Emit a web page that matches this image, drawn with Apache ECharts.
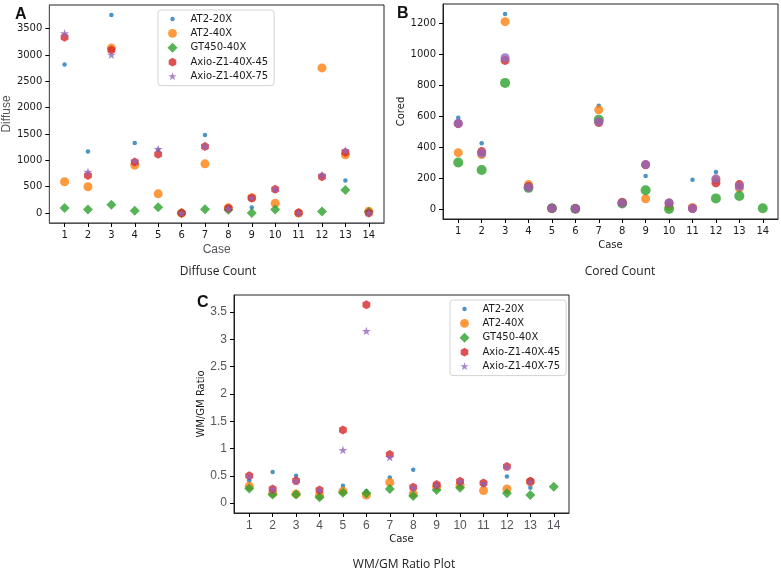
<!DOCTYPE html>
<html>
<head>
<meta charset="utf-8">
<script src="https://cdn.jsdelivr.net/npm/echarts@6/dist/echarts.min.js"></script>
<style>html,body{margin:0;padding:0;background:#fff;}#c{width:781px;height:572px;background:#fff;}</style>
</head>
<body>
<div id="c"></div>
<script>
// ---- data ----
var cases = [1, 2, 3, 4, 5, 6, 7, 8, 9, 10, 11, 12, 13, 14];
var seriesNames = ['AT2-20X', 'AT2-40X', 'GT450-40X', 'Axio-Z1-40X-45', 'Axio-Z1-40X-75'];

var diffuseAT2_20X = [2820, 1170, 3760, 1330, 1200, 0, 1480, 80, 105, 440, 0, 710, 620, null];
var diffuseAT2_40X = [595, 500, 3130, 910, 365, 0, 935, 100, 290, 185, 0, 2755, 1105, 35];
var diffuseGT450   = [95, 70, 160, 45, 110, 0, 75, 65, 0, 70, null, 30, 440, 20];
var diffuseAxio45  = [3335, 715, 3095, 970, 1115, 0, 1265, 90, 285, 450, 5, 690, 1155, 0];
var diffuseAxio75  = [3410, 785, 3005, 985, 1215, 0, 1270, 80, 292, 455, 5, 725, 1185, 0];

var coredAT2_20X = [590, 425, 1260, 150, 6, 3, 667, 45, 215, 35, 191, 240, 150, null];
var coredAT2_40X = [365, 353, 1210, 159, 6, 3, 641, 45, 68, 20, 11, 190, 136, null];
var coredGT450   = [302, 253, 815, 138, 6, 3, 578, 37, 123, 2, null, 70, 85, 6];
var coredAxio45  = [552, 372, 960, 146, 6, 3, 559, 42, 287, 41, 5, 170, 159, null];
var coredAxio75  = [555, 361, 977, 141, 6, 3, 565, 41, 288, 41, 5, 196, 147, null];

var ratioAT2_20X = [0.41, 0.57, 0.50, 0.22, 0.32, 0.22, 0.47, 0.61, 0.30, 0.36, 0.35, 0.49, 0.28, null];
var ratioAT2_40X = [0.31, 0.18, 0.17, 0.14, 0.22, 0.15, 0.38, 0.17, 0.30, 0.33, 0.23, 0.26, 0.39, null];
var ratioGT450   = [0.27, 0.16, 0.16, 0.11, 0.19, 0.18, 0.26, 0.13, 0.24, 0.28, null, 0.18, 0.15, 0.30];
var ratioAxio45  = [0.50, 0.26, 0.41, 0.24, 1.34, 3.63, 0.89, 0.29, 0.34, 0.40, 0.37, 0.67, 0.40, null];
var ratioAxio75  = [0.49, 0.25, 0.40, 0.24, 0.975, 3.15, 0.84, 0.28, 0.33, 0.39, 0.36, 0.66, 0.39, null];

var diffuseTicks = [0, 500, 1000, 1500, 2000, 2500, 3000, 3500];
var coredTicks = [0, 200, 400, 600, 800, 1000, 1200];
var ratioTicks = [0, 0.5, 1.0, 1.5, 2.0, 2.5, 3.0, 3.5];

// ---- styles ----
var colors = ['#1f77b4', '#ff7f0e', '#2ca02c', '#d62728', '#9467bd'];
var HEX = 'path://M0,-10 L8.66,-5 L8.66,5 L0,10 L-8.66,5 L-8.66,-5 Z';
var STAR = 'path://M0,-10 L2.245,-3.09 L9.511,-3.09 L3.633,1.18 L5.878,8.09 L0,3.82 L-5.878,8.09 L-3.633,1.18 L-9.511,-3.09 L-2.245,-3.09 Z';
var symbols = ['circle', 'circle', 'diamond', HEX, STAR];
var sizes = [4.5, 9, 10, 9, 9];
var BB = 'path://M0,0 M18,10 ';
var legendIcons = [
  BB + 'M2.8,5 A2.2,2.2 0 1,0 7.2,5 A2.2,2.2 0 1,0 2.8,5 Z',
  BB + 'M0.6,5 A4.4,4.4 0 1,0 9.4,5 A4.4,4.4 0 1,0 0.6,5 Z',
  BB + 'M5,0 L10,5 L5,10 L0,5 Z',
  BB + 'M5,0.6 L8.8,2.8 L8.8,7.2 L5,9.4 L1.2,7.2 L1.2,2.8 Z',
  BB + 'M5,0.6 L5.99,3.64 L9.18,3.64 L6.6,5.52 L7.59,8.56 L5,6.68 L2.41,8.56 L3.4,5.52 L0.82,3.64 L4.01,3.64 Z'
];

var FONT = 'DejaVu Sans';
var TXT = '#1a1a1a';

var panels = [
  {grid: {left: 48, top: 5, width: 336, height: 218}, ymin: -188, ymax: 3948, ticks: diffuseTicks,
   yname: 'Diffuse', ynameGap: 36, fmt: function (v) { return String(v); },
   data: [diffuseAT2_20X, diffuseAT2_40X, diffuseGT450, diffuseAxio45, diffuseAxio75],
   legend: {left: 158, top: 10}},
  {grid: {left: 443, top: 4, width: 335, height: 215}, ymin: -63, ymax: 1324, ticks: coredTicks,
   yname: 'Cored', ynameGap: 36, fmt: function (v) { return String(v); },
   data: [coredAT2_20X, coredAT2_40X, coredGT450, coredAxio45, coredAxio75],
   legend: {left: 553, top: 9}},
  {grid: {left: 234, top: 295, width: 335, height: 218}, ymin: -0.18, ymax: 3.81, ticks: ratioTicks,
   yname: 'WM/GM Ratio', ynameGap: 27, fmt: function (v) { return Number(v).toFixed(1); },
   data: [ratioAT2_20X, ratioAT2_40X, ratioGT450, ratioAxio45, ratioAxio75],
   legend: {left: 450, top: 300}}
];

var grids = [], xAxes = [], yAxes = [], series = [], legends = [];
panels.forEach(function (p, pi) {
  grids.push(Object.assign({show: true, borderColor: '#222'}, p.grid));
  var lineA = pi === 0 ? {show: true, onZero: false} : {show: true, onZero: false, lineStyle: {color: '#222'}};
  var nts = pi === 0 ? undefined : {fontFamily: FONT, fontSize: 10, color: TXT};
  var lblX = pi === 2 ? {customValues: cases, margin: 7} : {customValues: cases, margin: 7, fontFamily: FONT, fontSize: 10, color: TXT};
  var lblY = pi === 2 ? {customValues: p.ticks, margin: 7} : {customValues: p.ticks, margin: 7, fontFamily: FONT, fontSize: 10, color: TXT, formatter: p.fmt};
  var xa = {
    type: 'value', gridIndex: pi, min: 0.35, max: 14.65,
    name: 'Case', nameLocation: 'middle', nameGap: 21,
    axisLine: lineA, splitLine: {show: false},
    axisTick: {show: true, length: 4, customValues: cases, lineStyle: {color: '#000', width: 1}},
    axisLabel: lblX
  };
  var ya = {
    type: 'value', gridIndex: pi, min: p.ymin, max: p.ymax,
    name: p.yname, nameLocation: 'middle', nameGap: p.ynameGap,
    axisLine: lineA, splitLine: {show: false},
    axisTick: {show: true, length: 4, customValues: p.ticks, lineStyle: {color: '#000', width: 1}},
    axisLabel: lblY
  };
  if (nts) { xa.nameTextStyle = nts; ya.nameTextStyle = nts; }
  xAxes.push(xa); yAxes.push(ya);
  p.data.forEach(function (arr, si) {
    var pts = [];
    cases.forEach(function (c, i) { if (arr[i] !== null) pts.push([c, arr[i]]); });
    var s = {
      type: 'scatter', name: seriesNames[si], xAxisIndex: pi, yAxisIndex: pi,
      symbol: pi === 1 ? 'circle' : symbols[si], symbolSize: sizes[si],
      itemStyle: {color: colors[si]},
      data: pts
    };
    if (pi !== 1) s.symbolKeepAspect = true;
    series.push(s);
  });
  if (pi !== 1) {
    legends.push({
      orient: 'vertical', left: p.legend.left, top: p.legend.top,
      itemWidth: 18, itemHeight: 10, itemGap: 4.4,
      padding: [4, 6, 4, 9.5],
      borderColor: '#d3d3d3', borderWidth: 1, borderRadius: 3,
      backgroundColor: 'rgba(255,255,255,0.85)',
      selectedMode: false,
      textStyle: {fontFamily: FONT, fontSize: 10, color: TXT},
      data: seriesNames.map(function (n, i) { return {name: n, icon: legendIcons[i], itemStyle: {color: colors[i]}}; })
    });
  }
});

var titleFont = 'Open Sans';
var titles = [
  {text: 'A', left: 10, top: 2, textStyle: {fontFamily: 'Liberation Sans', fontWeight: 'bold', fontSize: 16, color: '#111'}},
  {text: 'B', left: 392, top: 1, textStyle: {fontFamily: 'Liberation Sans', fontWeight: 'bold', fontSize: 16, color: '#111'}},
  {text: 'C', left: 192, top: 290, textStyle: {fontFamily: 'Liberation Sans', fontWeight: 'bold', fontSize: 16, color: '#111'}},
  {text: 'Diffuse Count', left: 213, top: 261, textAlign: 'center', textStyle: {fontFamily: titleFont, fontWeight: 'normal', fontSize: 12, color: '#222'}},
  {text: 'Cored Count', left: 615, top: 261, textAlign: 'center', textStyle: {fontFamily: titleFont, fontWeight: 'normal', fontSize: 12, color: '#222'}},
  {text: 'WM/GM Ratio Plot', left: 399, top: 554, textAlign: 'center', textStyle: {fontFamily: titleFont, fontWeight: 'normal', fontSize: 12, color: '#222'}}
];

var chart = echarts.init(document.getElementById('c'));
chart.setOption({
  animation: false,
  title: titles,
  grid: grids,
  xAxis: xAxes,
  yAxis: yAxes,
  legend: legends,
  series: series
});
</script>
</body>
</html>
